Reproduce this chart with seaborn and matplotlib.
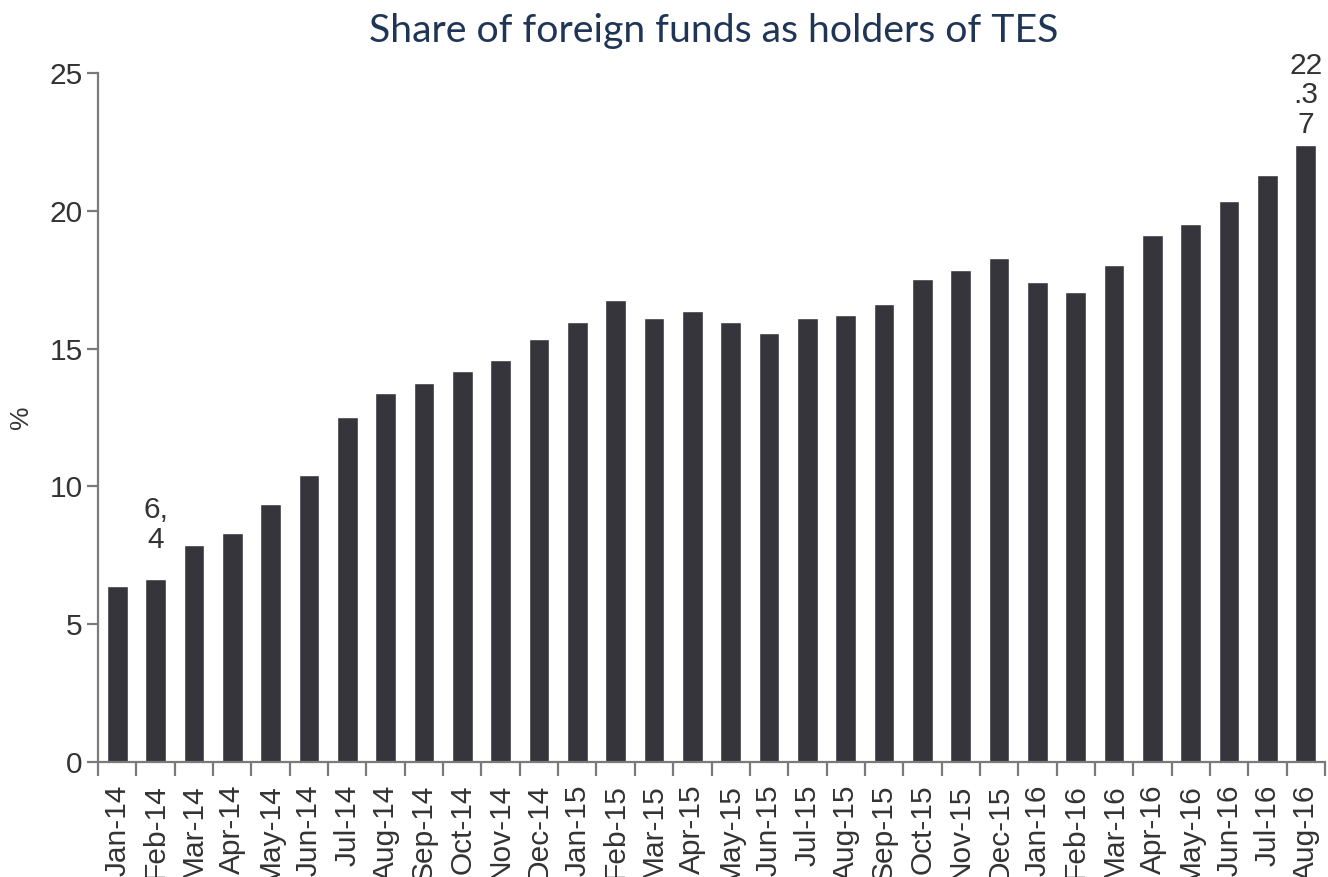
import matplotlib
matplotlib.use("Agg")
import matplotlib.pyplot as plt
from matplotlib.ticker import FixedLocator
import seaborn as sns
import pandas as pd

# Monthly share of foreign funds among TES holders (%)
months = [
    "Jan-14", "Feb-14", "Mar-14", "Apr-14", "May-14", "Jun-14", "Jul-14", "Aug-14",
    "Sep-14", "Oct-14", "Nov-14", "Dec-14", "Jan-15", "Feb-15", "Mar-15", "Apr-15",
    "May-15", "Jun-15", "Jul-15", "Aug-15", "Sep-15", "Oct-15", "Nov-15", "Dec-15",
    "Jan-16", "Feb-16", "Mar-16", "Apr-16", "May-16", "Jun-16", "Jul-16", "Aug-16",
]
share = [
    6.4, 6.64, 7.88, 8.31, 9.36, 10.41, 12.52, 13.40,
    13.74, 14.19, 14.57, 15.34, 15.98, 16.78, 16.12, 16.37,
    15.97, 15.55, 16.12, 16.22, 16.61, 17.54, 17.86, 18.30,
    17.43, 17.05, 18.03, 19.11, 19.52, 20.37, 21.29, 22.37,
]
y_ticks = [0, 5, 10, 15, 20, 25]
first_label = "6,\n4"
last_label = "22\n.3\n7"

df = pd.DataFrame({"month": months, "share": share})

sns.set_style("white")
plt.rcParams["font.family"] = ["Liberation Sans", "DejaVu Sans"]

fig = plt.figure(figsize=(13.28, 8.77), dpi=100)
ax = fig.add_axes([98 / 1328, 1 - 762 / 877, (1325 - 98) / 1328, (762 - 73) / 877])

bar_color = "#36353c"
axis_color = "#7a7a7a"
text_color = "#333333"
label_size = 21.5

sns.barplot(data=df, x="month", y="share", color=bar_color, saturation=1,
            width=0.54, ax=ax)

n = len(months)
ax.set_xlim(-0.5, n - 0.5)
ax.set_ylim(0, 25)
ax.set_yticks(y_ticks)
ax.set_xlabel("")
ax.set_ylabel("%", fontsize=19, color=text_color, labelpad=12)

for side in ("top", "right"):
    ax.spines[side].set_visible(False)
for side in ("left", "bottom"):
    ax.spines[side].set_color(axis_color)
    ax.spines[side].set_linewidth(1.6)

# Category labels under each bar, tick marks at the bar boundaries
ax.xaxis.set_minor_locator(FixedLocator([i - 0.5 for i in range(n + 1)]))
ax.tick_params(axis="x", which="major", length=0, pad=16, labelsize=label_size,
               labelcolor=text_color, rotation=90)
ax.tick_params(axis="x", which="minor", length=10, width=1.6, color=axis_color,
               direction="out", bottom=True)
ax.tick_params(axis="y", length=8, width=1.6, color=axis_color, direction="out",
               left=True, labelsize=label_size, labelcolor=text_color, pad=3)

ax.text(1, 7.55, first_label, ha="center", va="bottom", multialignment="center",
        fontsize=label_size, color=text_color, linespacing=1.08)
ax.text(n - 1, 22.6, last_label, ha="center", va="bottom", multialignment="center",
        fontsize=label_size, color=text_color, linespacing=1.08, clip_on=False)

fig.text(714 / 1328, 1 - 31 / 877, "Share of foreign funds as holders of TES",
         ha="center", va="center", fontsize=28.3, color="#1f3556",
         family=["Lato", "DejaVu Sans"])

fig.savefig("out.png", dpi=100)
